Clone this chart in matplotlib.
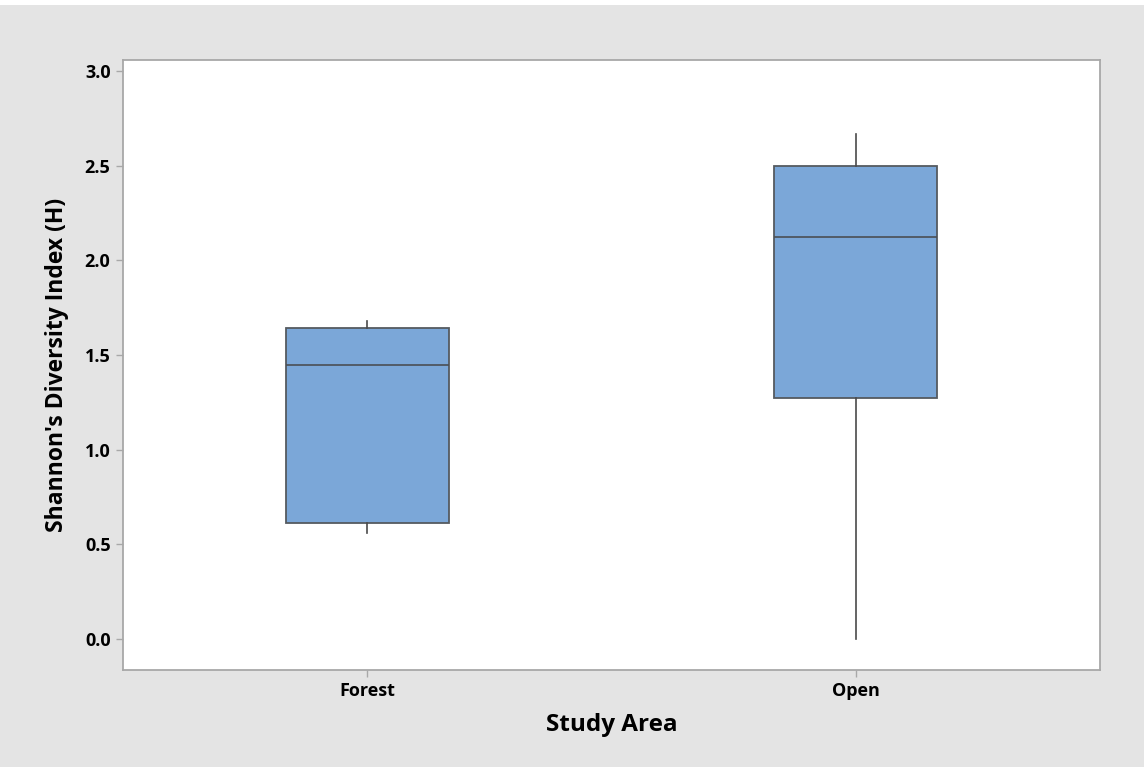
import matplotlib
matplotlib.use("Agg")
import matplotlib.pyplot as plt
from matplotlib.patches import Rectangle

# Five-number summaries of Shannon's H per study area
categories = ["Forest", "Open"]
whisker_low = [0.56, 0.00]
q1 = [0.614, 1.272]
median = [1.448, 2.122]
q3 = [1.640, 2.500]
whisker_high = [1.680, 2.666]

yticks = [0.0, 0.5, 1.0, 1.5, 2.0, 2.5, 3.0]

plt.rcParams["font.family"] = ["Open Sans", "DejaVu Sans"]

bg = "#e4e4e4"
fig = plt.figure(figsize=(11.44, 7.67), dpi=100, facecolor=bg)
fig.patches.append(Rectangle((0, 1 - 5 / 767), 1, 5 / 767, transform=fig.transFigure,
                             facecolor="white", edgecolor="none", zorder=0))
ax = fig.add_axes([123 / 1144, 1 - 670 / 767, (1100 - 123) / 1144, (670 - 60) / 767])
ax.set_facecolor("white")

stats = []
for i, name in enumerate(categories):
    stats.append(dict(label=name, whislo=whisker_low[i], q1=q1[i], med=median[i],
                      q3=q3[i], whishi=whisker_high[i], fliers=[]))

ax.bxp(stats, positions=[1, 2], widths=0.333, patch_artist=True, showcaps=False,
       boxprops=dict(facecolor="#7ba7d8", edgecolor="#555a60", linewidth=1.3),
       medianprops=dict(color="#4a4f55", linewidth=1.2),
       whiskerprops=dict(color="#4a4a4a", linewidth=1.2))

ax.set_xlim(0.5, 2.5)
ax.set_ylim(-0.165, 3.058)
ax.set_yticks(yticks)
ax.set_yticklabels([f"{t:.1f}" for t in yticks])
ax.set_xticks([1, 2])
ax.set_xticklabels(categories)

for s in ax.spines.values():
    s.set_color("#a8a8a8")
    s.set_linewidth(1.3)
ax.tick_params(axis="both", colors="#a8a8a8", length=5, width=1.0, direction="out",
               labelcolor="black", labelsize=13, pad=4)
for lbl in ax.get_xticklabels() + ax.get_yticklabels():
    lbl.set_fontweight("bold")

ax.set_xlabel("Study Area", fontsize=17.5, fontweight="bold", labelpad=9)
ax.set_ylabel("Shannon's Diversity Index (H)", fontsize=16.5, fontweight="bold", labelpad=11)

fig.savefig("out.png", dpi=100, facecolor=bg)
